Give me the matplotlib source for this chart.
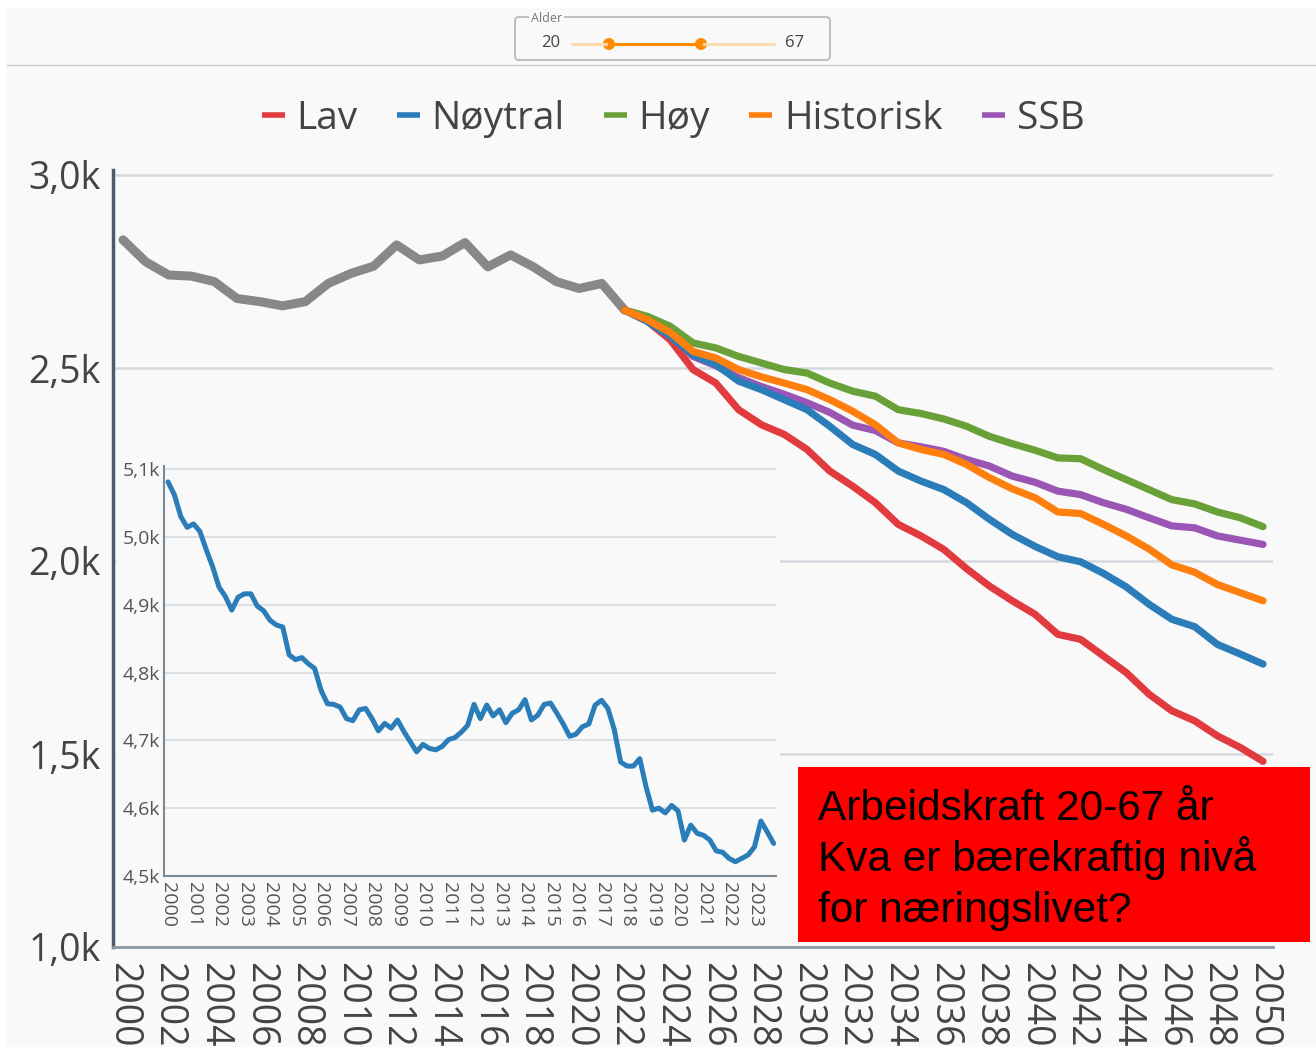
import matplotlib
matplotlib.use('Agg')
import matplotlib.pyplot as plt
from matplotlib.lines import Line2D
from matplotlib.patches import Rectangle, FancyBboxPatch, Circle

# ---------------- data ----------------
hist_years = list(range(2000, 2023))
hist_vals = [2.832, 2.775, 2.741, 2.738, 2.724, 2.680, 2.672, 2.661, 2.672, 2.719,
             2.745, 2.764, 2.819, 2.780, 2.790, 2.825, 2.762, 2.793, 2.762, 2.724,
             2.706, 2.719, 2.650]

fc_years = list(range(2022, 2051))
lav = [2.650, 2.621, 2.573, 2.496, 2.461, 2.392, 2.353, 2.328, 2.289, 2.233,
       2.194, 2.151, 2.095, 2.065, 2.030, 1.980, 1.935, 1.897, 1.862, 1.810,
       1.797, 1.754, 1.711, 1.655, 1.612, 1.586, 1.547, 1.517, 1.481]
noytral = [2.650, 2.621, 2.582, 2.534, 2.509, 2.466, 2.444, 2.418, 2.392, 2.349,
           2.302, 2.276, 2.233, 2.207, 2.185, 2.151, 2.108, 2.069, 2.038, 2.011,
           1.998, 1.968, 1.933, 1.888, 1.849, 1.830, 1.784, 1.759, 1.733]
hoy = [2.650, 2.634, 2.608, 2.565, 2.552, 2.530, 2.513, 2.496, 2.487, 2.461,
       2.440, 2.427, 2.392, 2.382, 2.368, 2.349, 2.323, 2.304, 2.287, 2.267,
       2.265, 2.237, 2.211, 2.185, 2.159, 2.148, 2.127, 2.112, 2.089]
historisk = [2.650, 2.625, 2.592, 2.543, 2.526, 2.496, 2.477, 2.461, 2.444, 2.418,
             2.388, 2.353, 2.306, 2.289, 2.276, 2.250, 2.216, 2.187, 2.164, 2.127,
             2.123, 2.095, 2.065, 2.031, 1.990, 1.971, 1.939, 1.918, 1.897]
ssb = [2.650, 2.622, 2.585, 2.530, 2.506, 2.475, 2.452, 2.432, 2.410, 2.385,
       2.352, 2.338, 2.306, 2.296, 2.284, 2.263, 2.246, 2.220, 2.204, 2.181,
       2.172, 2.151, 2.134, 2.112, 2.091, 2.086, 2.065, 2.054, 2.043]

series_names = ['Lav', 'Nøytral', 'Høy', 'Historisk', 'SSB']
series_colors = ['#e23b3f', '#2a7db8', '#69a038', '#ff7f0e', '#9b56b5']
draw_order = [4, 0, 1, 2, 3]   # SSB drawn first, underneath

main_yticks = [1.0, 1.5, 2.0, 2.5, 3.0]
main_ylabels = ['1,0k', '1,5k', '2,0k', '2,5k', '3,0k']
main_xticks = list(range(2000, 2051, 2))

# inset: quarterly values 2000Q1 .. 2023Q4 (thousands)
inset_start = 2000
inset_vals = [5.081, 5.062, 5.030, 5.014, 5.019, 5.008, 4.981, 4.956,
              4.926, 4.912, 4.892, 4.911, 4.916, 4.916, 4.898, 4.891,
              4.877, 4.870, 4.867, 4.826, 4.819, 4.822, 4.813, 4.806,
              4.774, 4.754, 4.753, 4.749, 4.732, 4.729, 4.745, 4.747,
              4.732, 4.714, 4.725, 4.718, 4.730, 4.713, 4.698, 4.683,
              4.694, 4.688, 4.686, 4.691, 4.701, 4.704, 4.712, 4.722,
              4.753, 4.732, 4.752, 4.736, 4.745, 4.726, 4.740, 4.745,
              4.760, 4.730, 4.737, 4.753, 4.755, 4.740, 4.724, 4.706,
              4.709, 4.720, 4.724, 4.752, 4.759, 4.747, 4.716, 4.668,
              4.662, 4.662, 4.673, 4.631, 4.597, 4.600, 4.593, 4.604,
              4.596, 4.553, 4.575, 4.563, 4.560, 4.553, 4.537, 4.535,
              4.526, 4.521, 4.526, 4.531, 4.543, 4.581, 4.565, 4.548]
inset_yticks = [4.5, 4.6, 4.7, 4.8, 4.9, 5.0, 5.1]
inset_ylabels = ['4,5k', '4,6k', '4,7k', '4,8k', '4,9k', '5,0k', '5,1k']
inset_xticks = list(range(2000, 2024))

box_lines = ['Arbeidskraft 20-67 år', 'Kva er bærekraftig nivå', 'for næringslivet?']
slider_label = 'Alder'
slider_min, slider_max = '20', '67'

# ---------------- layout helpers ----------------
W, H = 1316, 1047
def fx(px):
    return px / W
def fy(py):
    return 1 - py / H

BG = '#f9f9f9'
TXT = '#444444'
FONT = 'Open Sans'

fig = plt.figure(figsize=(W / 100, H / 100), dpi=100, facecolor='white')
fig.patches.append(Rectangle((fx(7), 0), 1, fy(8), transform=fig.transFigure,
                             facecolor=BG, edgecolor='none', zorder=-10))

# ---------------- main axes ----------------
ax = fig.add_axes([fx(113), fy(947), fx(1273) - fx(113), fy(170) - fy(947)], zorder=0)
ax.set_facecolor('none')
ax.set_xlim(2000 - 10 / 22.8, 2050 + 10 / 22.8)
ax.set_ylim(1.0, 3.0 + 5 / 386)
ax.set_yticks(main_yticks)
ax.set_yticklabels(main_ylabels)
ax.set_xticks(main_xticks)
ax.set_xticklabels([str(y) for y in main_xticks], rotation=-90)
ax.tick_params(axis='both', length=0, labelsize=27, labelcolor=TXT)
ax.tick_params(axis='y', pad=9)
ax.tick_params(axis='x', pad=11)
for lab in ax.get_xticklabels() + ax.get_yticklabels():
    lab.set_fontfamily(FONT)
ax.grid(axis='y', color='#d3d9df', lw=1.8)
ax.set_axisbelow(True)
for s in ['top', 'right']:
    ax.spines[s].set_visible(False)
ax.spines['left'].set_color('#4d5b68')
ax.spines['left'].set_linewidth(2.5)
ax.spines['bottom'].set_color('#8c98a3')
ax.spines['bottom'].set_linewidth(2.0)

ax.plot(hist_years, hist_vals, color='#888888', lw=6.5, solid_capstyle='round',
        solid_joinstyle='round', zorder=3)
all_series = [lav, noytral, hoy, historisk, ssb]
for k in draw_order:
    ax.plot(fc_years, all_series[k], color=series_colors[k], lw=5.2,
            solid_capstyle='round', solid_joinstyle='round', zorder=4)

# legend
handles = [Line2D([0], [0], color=c, lw=4, solid_capstyle='butt') for c in series_colors]
leg = fig.legend(handles, series_names, loc='center', bbox_to_anchor=(fx(673), fy(119)),
                 ncol=5, frameon=False, handlelength=0.6, handletextpad=0.3,
                 columnspacing=1.0, prop={'family': FONT, 'size': 28})
for t in leg.get_texts():
    t.set_color(TXT)

# ---------------- cover for inset ----------------
cov = fig.add_axes([0, 0, 1, 1], zorder=1)
cov.set_xlim(0, W)
cov.set_ylim(H, 0)
cov.axis('off')
cov.patch.set_alpha(0)
cov.add_patch(Rectangle((116, 452), 780 - 116, 944 - 452, facecolor=BG, edgecolor='none'))

# ---------------- inset axes ----------------
ins = fig.add_axes([fx(164), fy(876), fx(776) - fx(164), fy(466) - fy(876)], zorder=2)
ins.set_facecolor('none')
ins.set_xlim(2000 - 4 / 25.5, 2023 + 21.5 / 25.5)
ins.set_ylim(4.5, 5.1 + 3 / 678)
ix = [inset_start + i / 4 for i in range(len(inset_vals))]
ins.plot(ix, inset_vals, color='#2a7db8', lw=3.6, solid_joinstyle='round',
         solid_capstyle='round')
ins.set_yticks(inset_yticks)
ins.set_yticklabels(inset_ylabels)
ins.set_xticks(inset_xticks)
ins.set_xticklabels([str(y) for y in inset_xticks], rotation=-90)
ins.tick_params(axis='both', length=0, labelsize=14, labelcolor='#555555')
ins.tick_params(axis='y', pad=3)
ins.tick_params(axis='x', pad=4)
for lab in ins.get_xticklabels() + ins.get_yticklabels():
    lab.set_fontfamily(FONT)
ins.grid(axis='y', color='#d6dce2', lw=1.2)
ins.set_axisbelow(True)
for s in ['top', 'right']:
    ins.spines[s].set_visible(False)
ins.spines['left'].set_color('#7d8a96')
ins.spines['left'].set_linewidth(1.5)
ins.spines['bottom'].set_color('#7d8a96')
ins.spines['bottom'].set_linewidth(1.5)

# ---------------- overlay: slider, separator, text box ----------------
ov = fig.add_axes([0, 0, 1, 1], zorder=10)
ov.set_xlim(0, W)
ov.set_ylim(H, 0)
ov.axis('off')
ov.patch.set_alpha(0)

ov.plot([7, W], [65, 65], color='#cfcfcf', lw=1)
ov.add_patch(FancyBboxPatch((515, 17), 315, 43, boxstyle='round,pad=0,rounding_size=4',
                            facecolor='none', edgecolor='#b5b5b5', lw=1.2))
ov.text(531, 18, slider_label, fontsize=9, color='#777777', family=FONT,
        ha='left', va='center',
        bbox=dict(facecolor=BG, edgecolor='none', pad=1.5))
ov.text(560, 43, slider_min, fontsize=12, color=TXT, family=FONT, ha='right', va='center')
ov.text(785, 43, slider_max, fontsize=12, color=TXT, family=FONT, ha='left', va='center')
ov.plot([572, 774], [44, 44], color='#fdd9a8', lw=2, solid_capstyle='round')
ov.plot([609, 701], [44, 44], color='#ff8c00', lw=2.2)
for cxp in (609, 701):
    ov.add_patch(Circle((cxp, 44), 6, facecolor='#ff8c00', edgecolor='none'))

ov.add_patch(Rectangle((798, 767), 512, 175, facecolor='#ff0000', edgecolor='none'))
for i, line in enumerate(box_lines):
    ov.text(818, 820 + 51 * i, line, fontsize=30.5, color='black',
            family='Liberation Sans', ha='left', va='baseline')

fig.savefig('out.png', dpi=100, facecolor=fig.get_facecolor())
